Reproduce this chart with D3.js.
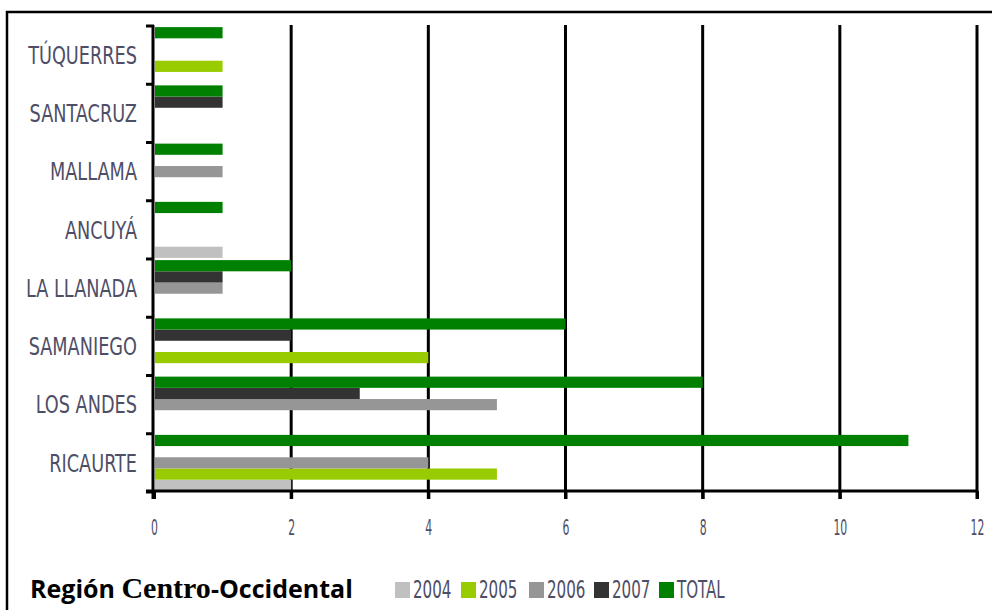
<!DOCTYPE html>
<html>
<head>
<meta charset="utf-8">
<script src="https://cdn.jsdelivr.net/npm/d3@7"></script>
<style>
  body { margin: 0; background: #fff; }
  .lbl { font-family: "DejaVu Sans Condensed", "DejaVu Sans", sans-serif; fill: #4e4e66; }
</style>
</head>
<body>
<svg id="chart" width="992" height="610"></svg>
<script>
// categories top to bottom
var municipios = ["TÚQUERRES", "SANTACRUZ", "MALLAMA", "ANCUYÁ", "LA LLANADA", "SAMANIEGO", "LOS ANDES", "RICAURTE"];
var series = ["2004", "2005", "2006", "2007", "TOTAL"];
var v2004 = [0, 0, 0, 1, 0, 0, 0, 2];
var v2005 = [1, 0, 0, 0, 0, 4, 0, 5];
var v2006 = [0, 0, 1, 0, 1, 0, 5, 4];
var v2007 = [0, 1, 0, 0, 1, 2, 3, 0];
var vTotal = [1, 1, 1, 1, 2, 6, 8, 11];
var xTicks = [0, 2, 4, 6, 8, 10, 12];
var colors = ["#c0c0c0", "#99cc00", "#969696", "#333333", "#008000"];

var values = [v2004, v2005, v2006, v2007, vTotal];
var data = municipios.map(function(m, i) {
  return { name: m, vals: series.map(function(s, j) { return { key: s, value: values[j][i] }; }) };
});

var svg = d3.select("#chart");

// outer frame
svg.append("path")
  .attr("d", "M7,610V12H992")
  .attr("fill", "none")
  .attr("stroke", "#000")
  .attr("stroke-width", 2.5);

var x = d3.scaleLinear().domain([0, 12]).range([154, 977]);
var y = d3.scaleBand().domain(municipios).range([26, 492]);
// TOTAL on top inside each group
var ySub = d3.scaleBand().domain(series.slice().reverse()).range([0, y.bandwidth()]).paddingOuter(0.1);

// vertical grid lines
svg.append("g").selectAll("line")
  .data(xTicks.filter(function(d) { return d > 0; }))
  .enter().append("line")
    .attr("x1", d => x(d)).attr("x2", d => x(d))
    .attr("y1", 25).attr("y2", 499)
    .attr("stroke", "#000").attr("stroke-width", 3);

// bars
var groups = svg.append("g").selectAll("g")
  .data(data)
  .enter().append("g")
    .attr("transform", d => `translate(0,${y(d.name)})`);

groups.selectAll("rect")
  .data(d => d.vals.filter(v => v.value > 0))
  .enter().append("rect")
    .attr("x", x(0) + 1)
    .attr("y", d => ySub(d.key))
    .attr("width", d => x(d.value) - x(0) - 1)
    .attr("height", ySub.bandwidth())
    .attr("fill", d => colors[series.indexOf(d.key)]);

// bottom axis
var bottomAxis = d3.axisBottom(x).tickValues(xTicks).tickSize(8).tickSizeOuter(0).tickPadding(0);
var xAxis = svg.append("g")
  .attr("transform", "translate(0,491)")
  .call(bottomAxis);
xAxis.select(".domain").attr("stroke-width", 3).attr("d", "M146,0H978");
xAxis.selectAll(".tick line").attr("stroke-width", 3);
xAxis.selectAll("text")
  .attr("class", "lbl")
  .attr("y", 0).attr("dy", 0)
  .attr("transform", "translate(0,44) scale(0.55,1)")
  .style("font-size", "22px");

// left axis line + category ticks
svg.append("line")
  .attr("x1", 153).attr("x2", 153).attr("y1", 25).attr("y2", 499)
  .attr("stroke", "#000").attr("stroke-width", 3);
var edges = municipios.map(m => y(m)).concat([492]);
svg.append("g").selectAll("line")
  .data(edges)
  .enter().append("line")
    .attr("x1", 146).attr("x2", 154)
    .attr("y1", d => d).attr("y2", d => d)
    .attr("stroke", "#000").attr("stroke-width", 3);

// category labels
var leftAxis = d3.axisLeft(y).tickSize(0).tickPadding(0);
var yAxis = svg.append("g")
  .attr("transform", "translate(137,0)")
  .call(leftAxis);
yAxis.select(".domain").remove();
yAxis.selectAll("text")
  .attr("class", "lbl")
  .attr("x", 0).attr("dy", "0.36em")
  .attr("transform", "scale(0.82,1)")
  .style("font-size", "24px");

// title
var title = svg.append("text")
  .attr("x", 30).attr("y", 598)
  .style("font-size", "25px").style("font-weight", "bold");
title.append("tspan").style("font-family", "'Open Sans', sans-serif").text("Región ");
title.append("tspan").style("font-family", "'Liberation Serif', serif").style("font-size", "30px").text("Centro");
title.append("tspan").style("font-family", "'Open Sans', sans-serif").text("-Occidental");

// legend
var legendX = [395, 461, 529, 594, 659];
var legend = svg.append("g").selectAll("g")
  .data(series)
  .enter().append("g")
    .attr("transform", (d, i) => `translate(${legendX[i]},582)`);
legend.append("rect")
  .attr("width", 15).attr("height", 16)
  .attr("fill", (d, i) => colors[i]);
legend.append("text")
  .attr("class", "lbl")
  .attr("transform", "translate(18,16) scale(0.7,1)")
  .style("font-size", "24px")
  .text(d => d);
</script>
</body>
</html>
